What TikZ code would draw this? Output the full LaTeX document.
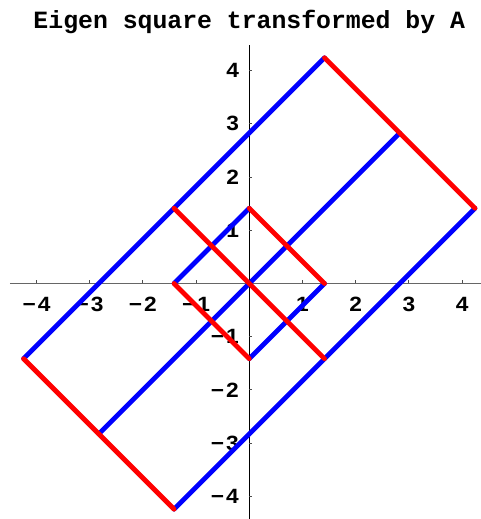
\documentclass[tikz,border=0pt]{standalone}
\usepackage{fontspec}
\setmainfont{Liberation Sans}
\newfontfamily\titlefont{Liberation Mono}
\newfontfamily\tickfont[FakeStretch=1.1]{Liberation Sans}
\begin{document}
\begin{tikzpicture}[x=39.9pt,y=39.9pt,
  eigblue/.style={draw=blue,line width=3.6pt,line cap=round},
  eigred/.style={draw=red,line width=3.6pt,line cap=round},
  xaxis/.style={draw=black!60,line width=0.9pt},
  yaxis/.style={draw=black,line width=0.7pt},
  tickmark/.style={draw=black!70,line width=0.6pt},
  ticklabel/.style={inner sep=0pt,font=\tickfont\fontsize{15.5}{17}\selectfont\bfseries},
  titlestyle/.style={inner sep=0pt,font=\titlefont\fontsize{18.6}{20}\selectfont\bfseries}]
\useasboundingbox (-4.686,-4.427) rectangle (4.355,5.329);
% axes
\coordinate (xl) at (-4.50,0);
\coordinate (xr) at (4.355,0);
\coordinate (yt) at (0,4.483);
\coordinate (yb) at (0,-4.427);
\draw[xaxis] (xl) -- (xr);
\draw[yaxis] (yt) -- (yb);
\foreach \k/\lab in {-4/−\kern1.5pt4,-3/−\kern1.5pt3,-2/−\kern1.5pt2,-1/−\kern1.5pt1,1/1,2/2,3/3,4/4}{
  \draw[tickmark] (\k,0) -- (\k,0.06);
  \draw[tickmark] (0,\k) -- (0.06,\k);
  \node[ticklabel,anchor=north] (xlab\k) at (\k,-0.25) {\lab};
  \node[ticklabel,anchor=east] (ylab\k) at (-0.19,\k) {\lab};
}
% title
\node[titlestyle,anchor=base] (title) at (0,4.784) {Eigen square transformed by A};
% corner points
\def\s{1.41421}\def\t{2.82843}\def\u{4.24264}
\coordinate (A1) at (-\u,-\s);
\coordinate (A2) at (\s,\u);
\coordinate (B1) at (-\s,-\u);
\coordinate (B2) at (\u,\s);
\coordinate (C1) at (-\t,-\t);
\coordinate (C2) at (\t,\t);
\coordinate (P1) at (\s,0);
\coordinate (P2) at (0,\s);
\coordinate (P3) at (-\s,0);
\coordinate (P4) at (0,-\s);
\coordinate (M1) at (-\s,\s);
\coordinate (M2) at (\s,-\s);
% blue lines
\draw[eigblue] (A1) -- (A2);
\draw[eigblue] (B1) -- (B2);
\draw[eigblue] (C1) -- (C2);
\draw[eigblue] (P3) -- (P2);
\draw[eigblue] (P4) -- (P1);
% red lines
\draw[eigred] (A2) -- (B2);
\draw[eigred] (A1) -- (B1);
\draw[eigred] (M1) -- (M2);
\draw[eigred] (P2) -- (P1);
\draw[eigred] (P3) -- (P4);
\end{tikzpicture}
\end{document}
